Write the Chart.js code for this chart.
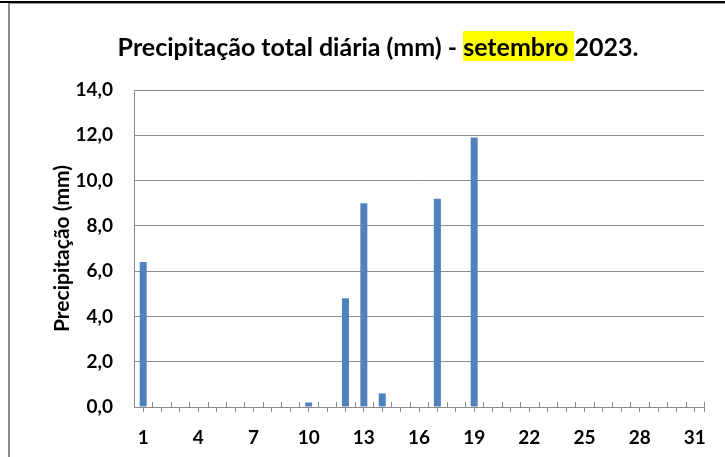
<!DOCTYPE html>
<html><head><meta charset="utf-8">
<script src="https://cdn.jsdelivr.net/npm/chart.js@4"></script>
<style>
html,body{margin:0;padding:0;background:#fff;}
#wrap{position:relative;width:725px;height:457px;overflow:hidden;background:#fff;}
#c{position:absolute;left:0;top:0;}
.topline{position:absolute;left:0;top:1px;width:725px;height:2px;background:#000;}
.topgray{position:absolute;left:8px;top:3px;width:717px;height:1px;background:#9a9a9a;}
.leftgray{position:absolute;left:8px;top:3px;width:2px;height:454px;background:#8a8a8a;}
#title{position:absolute;left:8px;width:740px;top:31px;text-align:center;font-family:Lato;font-weight:bold;font-size:25px;line-height:30px;color:#000;white-space:nowrap;}
#title span{background:#ffff00;}
</style></head>
<body>
<div id="wrap">
<div class="topline"></div><div class="topgray"></div><div class="leftgray"></div>
<canvas id="c" width="725" height="457"></canvas>
<div id="title">Precipitação total diária (mm) - <span>setembro </span>2023.</div>
</div>
<script>
const days = ['1','2','3','4','5','6','7','8','9','10','11','12','13','14','15','16','17','18','19','20','21','22','23','24','25','26','27','28','29','30','31'];
const precip = [6.4,0,0,0,0,0,0,0,0,0.2,0,4.8,9.0,0.6,0,0,9.2,0,11.9,0,0,0,0,0,0,0,0,0,0,0,0];
const shownDayLabels = ['1','4','7','10','13','16','19','22','25','28','31'];
const yTicks = [0,2,4,6,8,10,12,14];
const yTitle = 'Precipitação (mm)';

const GRID = '#8c8c8c';
const minorTicks = {
  id: 'minorTicks',
  afterDraw(chart) {
    const x = chart.scales.x, ctx = chart.ctx, b = x.top;
    ctx.save();
    ctx.strokeStyle = GRID; ctx.lineWidth = 1;
    const n = days.length;
    for (let i = 0; i <= n; i++) {
      let px;
      if (i === 0) px = x.getPixelForValue(0) - (x.getPixelForValue(1) - x.getPixelForValue(0)) / 2;
      else if (i === n) px = x.getPixelForValue(n - 1) + (x.getPixelForValue(n - 1) - x.getPixelForValue(n - 2)) / 2;
      else px = (x.getPixelForValue(i - 1) + x.getPixelForValue(i)) / 2;
      px = Math.round(px) + 0.5;
      ctx.beginPath();
      ctx.moveTo(px, b - 5);
      ctx.lineTo(px, i === n ? b + 5 : b);
      ctx.stroke();
    }
    ctx.restore();
  }
};

new Chart(document.getElementById('c'), {
  type: 'bar',
  data: {
    labels: days,
    datasets: [{
      data: precip,
      backgroundColor: '#4F81BD',
      borderWidth: 0,
      barPercentage: 0.38,
      categoryPercentage: 1.0
    }]
  },
  options: {
    responsive: false,
    devicePixelRatio: 1,
    animation: false,
    layout: { padding: { top: 90, right: 21, left: 0, bottom: 0 } },
    plugins: { legend: { display: false }, tooltip: { enabled: false }, title: { display: false } },
    scales: {
      x: {
        offset: true,
        grid: { offset: false, drawOnChartArea: false, drawTicks: true, tickLength: 5, color: GRID, lineWidth: 1 },
        border: { display: true, color: GRID, width: 1 },
        ticks: {
          autoSkip: false, maxRotation: 0, padding: 14, color: '#000',
          font: { family: 'Lato', weight: 'bold', size: 19 },
          callback: function(v, i) { const l = days[i]; return shownDayLabels.includes(l) ? l : ''; }
        },
        afterFit: function(s) { s.height = 50; }
      },
      y: {
        min: 0, max: 14,
        afterBuildTicks: function(s) { s.ticks = yTicks.map(v => ({ value: v })); },
        grid: { color: GRID, lineWidth: 1, drawTicks: false },
        border: { display: true, color: GRID, width: 1 },
        ticks: {
          padding: 21, color: '#000',
          font: { family: 'Lato', weight: 'bold', size: 19 },
          callback: function(v) { return v.toFixed(1).replace('.', ','); }
        },
        title: {
          display: true, text: yTitle, color: '#000',
          font: { family: 'Lato', weight: 'bold', size: 21 },
          padding: { top: 50, bottom: 0 }
        },
        afterFit: function(s) { s.width = 134; }
      }
    }
  },
  plugins: [minorTicks]
});
</script>
</body></html>
